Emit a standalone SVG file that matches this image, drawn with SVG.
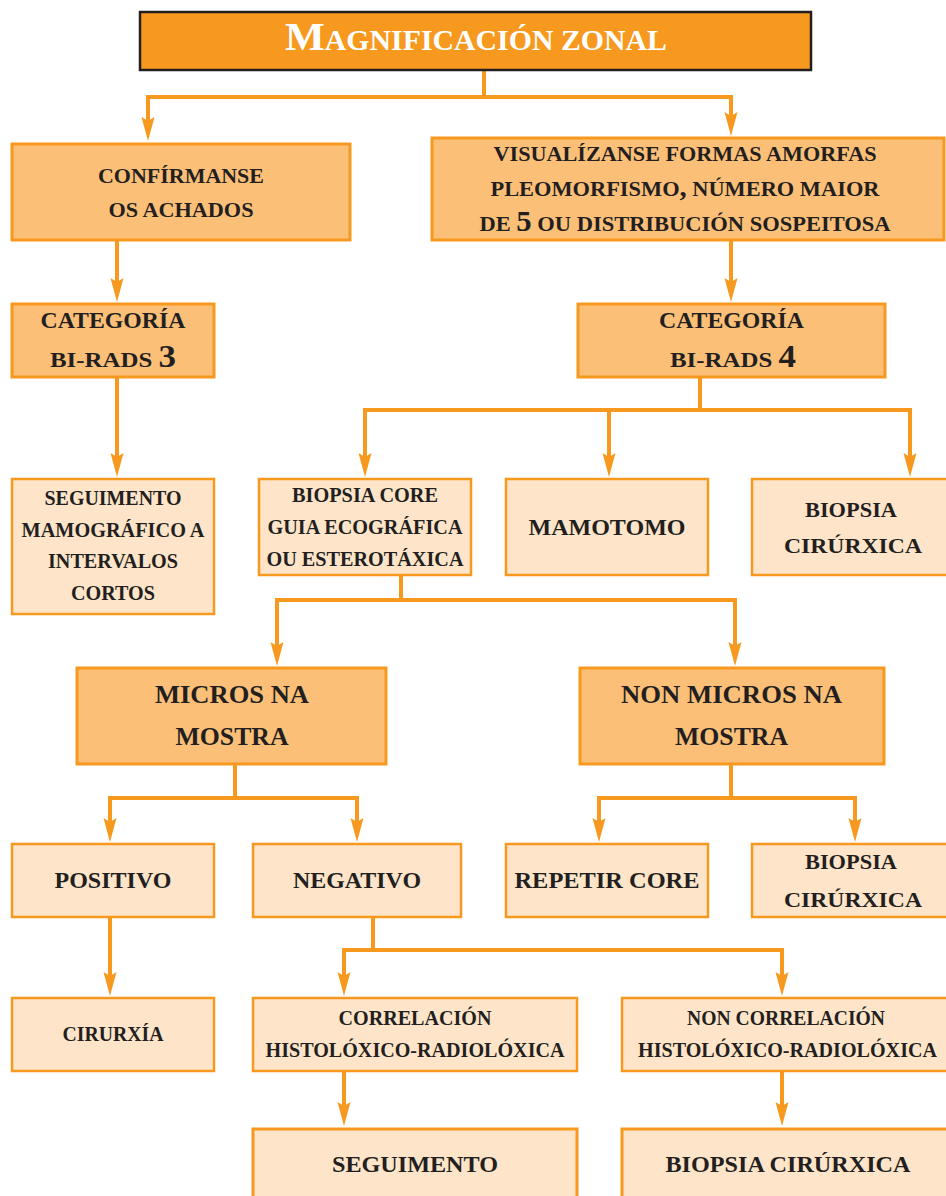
<svg xmlns="http://www.w3.org/2000/svg" width="946" height="1196" viewBox="0 0 946 1196">
<style>
.d{fill:#FCBF78;stroke:#F7991E;stroke-width:3}
.l{fill:#FEE5C9;stroke:#F7991E;stroke-width:2.5}
.t{font-family:"Liberation Serif","Times New Roman",serif;font-weight:bold;fill:#231F20;text-anchor:middle}
.ln{fill:none;stroke:#F7991E;stroke-width:4}
.ar{fill:none;stroke:#F7991E;stroke-width:4;marker-end:url(#ah)}
</style>
<defs>
<marker id="ah" markerUnits="userSpaceOnUse" markerWidth="26" markerHeight="14" viewBox="0 -7 26 14" refX="4" refY="0" orient="auto">
<path d="M0,-6.5 L24,0 L0,6.5 L4,0 Z" fill="#F7991E"/>
</marker>
</defs>
<rect width="946" height="1196" fill="#FFFFFF"/>

<g id="connectors">
<path class="ln" d="M484,70 V97 M146,97 H733"/>
<path class="ar" d="M148,97 V121"/>
<path class="ar" d="M731,97 V116"/>
<path class="ar" d="M117,240 V282"/>
<path class="ar" d="M731,240 V282"/>
<path class="ar" d="M117,377 V457"/>
<path class="ln" d="M700,377 V410 M363,410 H912"/>
<path class="ar" d="M365,410 V457"/>
<path class="ar" d="M609,410 V457"/>
<path class="ar" d="M910,410 V457"/>
<path class="ln" d="M401,575 V600 M275,600 H737"/>
<path class="ar" d="M277,600 V646"/>
<path class="ar" d="M735,600 V646"/>
<path class="ln" d="M235,764 V798 M108,798 H359"/>
<path class="ar" d="M110,798 V822"/>
<path class="ar" d="M357,798 V822"/>
<path class="ln" d="M731,764 V798 M597,798 H857"/>
<path class="ar" d="M599,798 V822"/>
<path class="ar" d="M855,798 V822"/>
<path class="ar" d="M110,917 V976"/>
<path class="ln" d="M373,917 V950 M342,950 H784"/>
<path class="ar" d="M344,950 V976"/>
<path class="ar" d="M782,950 V976"/>
<path class="ar" d="M344,1071 V1106"/>
<path class="ar" d="M782,1071 V1106"/>
</g>

<g id="title">
<rect x="140" y="12" width="671" height="58" fill="#F7991E" stroke="#231F20" stroke-width="2.5"/>
<text class="t" x="476" y="50" fill="#FFFFFF" style="fill:#FFFFFF" textLength="382" lengthAdjust="spacingAndGlyphs"><tspan font-size="41">M</tspan><tspan font-size="29">AGNIFICACIÓN ZONAL</tspan></text>
</g>

<g id="confirmanse">
<rect class="d" x="12" y="144" width="338" height="96"/>
<text class="t" font-size="22" x="181" y="183" textLength="166" lengthAdjust="spacingAndGlyphs">CONFÍRMANSE</text>
<text class="t" font-size="22" x="181" y="217" textLength="145" lengthAdjust="spacingAndGlyphs">OS ACHADOS</text>
</g>

<g id="visualizanse">
<rect class="d" x="432" y="138" width="512" height="102"/>
<text class="t" font-size="22" x="685" y="161" textLength="383" lengthAdjust="spacingAndGlyphs">VISUALÍZANSE FORMAS AMORFAS</text>
<text class="t" font-size="22" x="685" y="196" textLength="389" lengthAdjust="spacingAndGlyphs">PLEOMORFISMO<tspan font-size="28">,</tspan> NÚMERO MAIOR</text>
<text class="t" font-size="22" x="685" y="231" textLength="411" lengthAdjust="spacingAndGlyphs">DE <tspan font-size="30">5</tspan> OU DISTRIBUCIÓN SOSPEITOSA</text>
</g>

<g id="birads3">
<rect class="d" x="12" y="304" width="202" height="73"/>
<text class="t" font-size="23" x="113" y="328" textLength="145" lengthAdjust="spacingAndGlyphs">CATEGORÍA</text>
<text class="t" font-size="22" x="113" y="367" textLength="126" lengthAdjust="spacingAndGlyphs">BI-RADS <tspan font-size="31">3</tspan></text>
</g>

<g id="birads4">
<rect class="d" x="578" y="304" width="307" height="73"/>
<text class="t" font-size="23" x="731.5" y="328" textLength="145" lengthAdjust="spacingAndGlyphs">CATEGORÍA</text>
<text class="t" font-size="22" x="733" y="367" textLength="126" lengthAdjust="spacingAndGlyphs">BI-RADS <tspan font-size="31">4</tspan></text>
</g>

<g id="seguimento-mamografico">
<rect class="l" x="12" y="479" width="202" height="135"/>
<text class="t" font-size="20" x="113" y="505" textLength="137" lengthAdjust="spacingAndGlyphs">SEGUIMENTO</text>
<text class="t" font-size="20" x="113" y="537" textLength="183" lengthAdjust="spacingAndGlyphs">MAMOGRÁFICO A</text>
<text class="t" font-size="20" x="113" y="568" textLength="130" lengthAdjust="spacingAndGlyphs">INTERVALOS</text>
<text class="t" font-size="20" x="113" y="600" textLength="84" lengthAdjust="spacingAndGlyphs">CORTOS</text>
</g>

<g id="biopsia-core">
<rect class="l" x="259" y="479" width="212" height="96"/>
<text class="t" font-size="20" x="365" y="502" textLength="146" lengthAdjust="spacingAndGlyphs">BIOPSIA CORE</text>
<text class="t" font-size="20" x="365" y="534" textLength="195" lengthAdjust="spacingAndGlyphs">GUIA ECOGRÁFICA</text>
<text class="t" font-size="20" x="365" y="566" textLength="197" lengthAdjust="spacingAndGlyphs">OU ESTEROTÁXICA</text>
</g>

<g id="mamotomo">
<rect class="l" x="506" y="479" width="202" height="96"/>
<text class="t" font-size="24" x="607" y="535" textLength="157" lengthAdjust="spacingAndGlyphs">MAMOTOMO</text>
</g>

<g id="biopsia-cirurxica-1">
<rect class="l" x="752" y="479" width="196" height="96"/>
<text class="t" font-size="22" x="851" y="517" textLength="92" lengthAdjust="spacingAndGlyphs">BIOPSIA</text>
<text class="t" font-size="22" x="853" y="553" textLength="138" lengthAdjust="spacingAndGlyphs">CIRÚRXICA</text>
</g>

<g id="micros">
<rect class="d" x="77" y="668" width="309" height="96"/>
<text class="t" font-size="26" x="232" y="703" textLength="154" lengthAdjust="spacingAndGlyphs">MICROS NA</text>
<text class="t" font-size="26" x="232" y="745" textLength="113" lengthAdjust="spacingAndGlyphs">MOSTRA</text>
</g>

<g id="non-micros">
<rect class="d" x="580" y="668" width="304" height="96"/>
<text class="t" font-size="26" x="731.5" y="703" textLength="221" lengthAdjust="spacingAndGlyphs">NON MICROS NA</text>
<text class="t" font-size="26" x="731.5" y="745" textLength="113" lengthAdjust="spacingAndGlyphs">MOSTRA</text>
</g>

<g id="positivo">
<rect class="l" x="12" y="844" width="202" height="73"/>
<text class="t" font-size="24" x="113" y="888" textLength="117" lengthAdjust="spacingAndGlyphs">POSITIVO</text>
</g>

<g id="negativo">
<rect class="l" x="253" y="844" width="208" height="73"/>
<text class="t" font-size="24" x="357" y="888" textLength="128" lengthAdjust="spacingAndGlyphs">NEGATIVO</text>
</g>

<g id="repetir-core">
<rect class="l" x="506" y="844" width="202" height="73"/>
<text class="t" font-size="24" x="607" y="888" textLength="185" lengthAdjust="spacingAndGlyphs">REPETIR CORE</text>
</g>

<g id="biopsia-cirurxica-2">
<rect class="l" x="752" y="844" width="196" height="73"/>
<text class="t" font-size="22" x="851" y="869" textLength="92" lengthAdjust="spacingAndGlyphs">BIOPSIA</text>
<text class="t" font-size="22" x="853" y="907" textLength="138" lengthAdjust="spacingAndGlyphs">CIRÚRXICA</text>
</g>

<g id="cirurxia">
<rect class="l" x="12" y="998" width="202" height="73"/>
<text class="t" font-size="20" x="113" y="1041" textLength="101" lengthAdjust="spacingAndGlyphs">CIRURXÍA</text>
</g>

<g id="correlacion">
<rect class="l" x="253" y="998" width="324" height="73"/>
<text class="t" font-size="20" x="415" y="1025" textLength="153" lengthAdjust="spacingAndGlyphs">CORRELACIÓN</text>
<text class="t" font-size="20" x="415" y="1057" textLength="299" lengthAdjust="spacingAndGlyphs">HISTOLÓXICO-RADIOLÓXICA</text>
</g>

<g id="non-correlacion">
<rect class="l" x="622" y="998" width="326" height="73"/>
<text class="t" font-size="20" x="786" y="1025" textLength="198" lengthAdjust="spacingAndGlyphs">NON CORRELACIÓN</text>
<text class="t" font-size="20" x="787.5" y="1057" textLength="299" lengthAdjust="spacingAndGlyphs">HISTOLÓXICO-RADIOLÓXICA</text>
</g>

<g id="seguimento">
<rect class="l" x="253" y="1129" width="324" height="75" style="stroke-width:3"/>
<text class="t" font-size="24" x="415" y="1172" textLength="166" lengthAdjust="spacingAndGlyphs">SEGUIMENTO</text>
</g>

<g id="biopsia-cirurxica-3">
<rect class="l" x="622" y="1129" width="326" height="75" style="stroke-width:3"/>
<text class="t" font-size="24" x="788" y="1172" textLength="245" lengthAdjust="spacingAndGlyphs">BIOPSIA CIRÚRXICA</text>
</g>
</svg>
